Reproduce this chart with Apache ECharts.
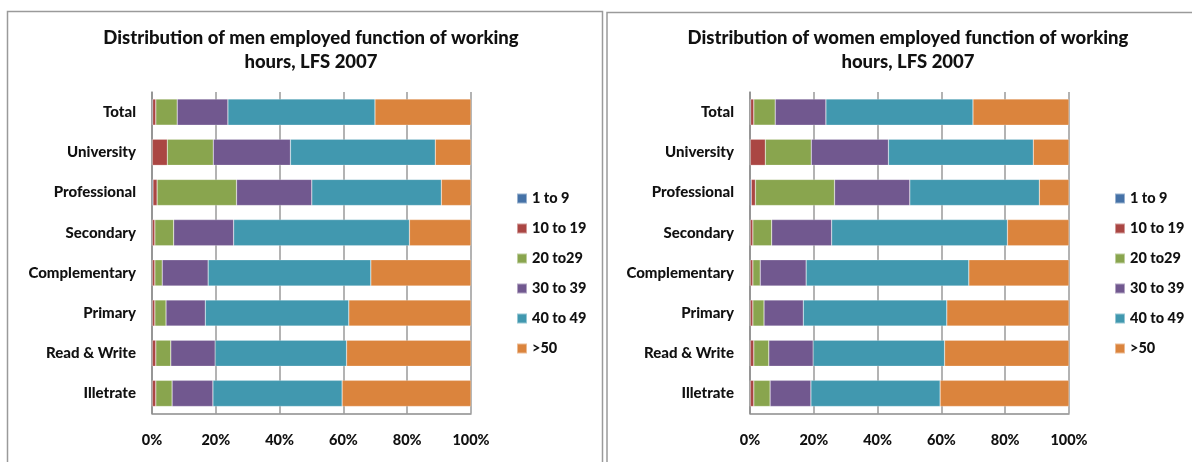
<!DOCTYPE html>
<html>
<head>
<meta charset="utf-8">
<script src="https://cdn.jsdelivr.net/npm/echarts@6/dist/echarts.min.js"></script>
<style>
  html, body { margin: 0; padding: 0; background: #fff; }
  #chart { width: 1192px; height: 462px; }
</style>
</head>
<body>
<div id="chart"></div>
<script>
// working hours distribution by education level, LFS 2007
const categories = ['Total', 'University', 'Professional', 'Secondary', 'Complementary', 'Primary', 'Read & Write', 'Illetrate']
const seriesNames = ['1 to 9', '10 to 19', '20 to29', '30 to 39', '40 to 49', '>50']
const xTicks = [0, 20, 40, 60, 80, 100]

// men (%)
const men1to9 = [0.2, 0.1, 0.3, 0.1, 0.1, 0.1, 0.1, 0.1]
const men10to19 = [1.0, 4.7, 1.3, 0.8, 0.8, 0.8, 1.1, 1.1]
const men20to29 = [6.7, 14.4, 24.9, 5.9, 2.3, 3.5, 4.7, 5.1]
const men30to39 = [15.9, 24.2, 23.6, 18.8, 14.4, 12.3, 13.9, 12.8]
const men40to49 = [46.1, 45.4, 40.6, 55.1, 51.0, 45.0, 41.2, 40.5]
const men50plus = [30.1, 11.2, 9.3, 19.3, 31.4, 38.3, 39.0, 40.4]

// women (%)
const women1to9 = [0.2, 0.1, 0.4, 0.1, 0.1, 0.1, 0.1, 0.1]
const women10to19 = [1.0, 4.7, 1.3, 0.8, 0.8, 0.8, 1.1, 1.1]
const women20to29 = [6.7, 14.4, 24.8, 5.9, 2.3, 3.5, 4.7, 5.1]
const women30to39 = [15.9, 24.2, 23.6, 18.8, 14.4, 12.3, 13.9, 12.8]
const women40to49 = [46.1, 45.4, 40.6, 55.1, 51.0, 45.0, 41.2, 40.5]
const women50plus = [30.1, 11.2, 9.3, 19.3, 31.4, 38.3, 39.0, 40.4]

const colors = ['#4572A7', '#AA4643', '#89A54E', '#71588F', '#4198AF', '#DB843D']
const font = 'Lato, "Open Sans", sans-serif'

const menData = [men1to9, men10to19, men20to29, men30to39, men40to49, men50plus]
const womenData = [women1to9, women10to19, women20to29, women30to39, women40to49, women50plus]

const myChart = echarts.init(document.getElementById('chart'), null, { renderer: 'canvas' })

function makeGrid(left) {
  return { left: left, top: 92, width: 319, height: 321.5, containLabel: false }
}

function makeX(idx) {
  return {
    type: 'value',
    gridIndex: idx,
    min: xTicks[0],
    max: xTicks[xTicks.length - 1],
    interval: 20,
    axisLine: { show: true, lineStyle: { color: '#8c8c8c', width: 1.5 } },
    axisTick: { show: false },
    splitLine: { show: true, lineStyle: { color: '#9a9a9a', width: 1.5 } },
    axisLabel: {
      formatter: '{value}%',
      margin: 19,
      color: '#111',
      fontFamily: font,
      fontWeight: 900,
      fontSize: 14.5,
    },
  }
}

function makeY(idx) {
  return {
    type: 'category',
    gridIndex: idx,
    data: categories,
    inverse: true,
    axisLine: { show: true, lineStyle: { color: '#8c8c8c', width: 1.5 } },
    axisTick: { show: false },
    axisLabel: {
      margin: 16,
      color: '#111',
      fontFamily: font,
      fontWeight: 900,
      fontSize: 15,
    },
  }
}

function makeSeries(data, idx) {
  return seriesNames.map(function (name, i) {
    return {
      name: name,
      type: 'bar',
      stack: 'chart' + idx,
      xAxisIndex: idx,
      yAxisIndex: idx,
      barCategoryGap: '35%',
      itemStyle: { color: colors[i], borderColor: 'rgba(255,255,255,0.45)', borderWidth: 0.5 },
      data: data[i],
    }
  })
}

function makeLegend(left) {
  return {
    orient: 'vertical',
    left: left,
    top: 191,
    padding: 0,
    itemWidth: 10,
    itemHeight: 10,
    itemGap: 15,
    icon: 'rect',
    data: seriesNames,
    textStyle: { color: '#111', fontFamily: font, fontWeight: 900, fontSize: 14.5 },
  }
}

const titleStyle = { color: '#111', fontFamily: font, fontWeight: 900, fontSize: 18.5, lineHeight: 24 }

const option = {
  animation: false,
  color: colors,
  title: [
    { text: 'Distribution of men employed function of working\nhours, LFS 2007', left: 306, top: 21, textAlign: 'center', textStyle: titleStyle },
    { text: 'Distribution of women employed function of working\nhours, LFS 2007', left: 903, top: 21, textAlign: 'center', textStyle: titleStyle },
  ],
  legend: [makeLegend(516), makeLegend(1114)],
  grid: [makeGrid(152), makeGrid(750)],
  xAxis: [makeX(0), makeX(1)],
  yAxis: [makeY(0), makeY(1)],
  series: makeSeries(menData, 0).concat(makeSeries(womenData, 1)),
  graphic: [
    { type: 'rect', shape: { x: 7.5, y: 11.5, width: 595, height: 470 }, style: { fill: 'none', stroke: '#9a9a9a', lineWidth: 1.5 }, silent: true },
    { type: 'rect', shape: { x: 607, y: 12.5, width: 600, height: 470 }, style: { fill: 'none', stroke: '#9a9a9a', lineWidth: 1.5 }, silent: true },
  ],
}
myChart.setOption(option)
</script>
</body>
</html>
